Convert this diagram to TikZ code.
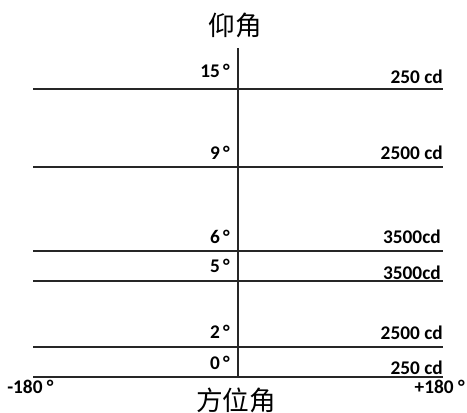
\documentclass[tikz,border=0pt]{standalone}
\usepackage{fontspec}
\setmainfont{Carlito}
\newfontfamily\cjk{Noto Sans CJK SC}
\begin{document}
\begin{tikzpicture}[x=0.75pt,y=-0.75pt,
  lbl/.style={inner sep=0pt,font=\fontsize{14.5pt}{16pt}\selectfont\bfseries},
  deg/.style={lbl,anchor=east},
  val/.style={lbl,anchor=east},
  axis/.style={line width=1.1pt,black!85},
  ttl/.style={inner sep=0pt,font=\cjk\fontsize{20pt}{22pt}\selectfont}]
\useasboundingbox (0,0) rectangle (467,412);
% vertical axis
\coordinate (vt) at (238,48);
\coordinate (vb) at (238,378);
\draw[axis] (vt) -- (vb);
% horizontal lines
\foreach \n/\y in {a/89,b/167,c/251,d/281,e/347,f/377}{
  \coordinate (\n L) at (33,\y);
  \coordinate (\n R) at (443,\y);
  \draw[axis] (\n L) -- (\n R);
}
\node[ttl] (top) at (235,25) {仰角};
\node[ttl] (bot) at (236,400) {方位角};
\node[deg] (d15) at (230,71) {15\,°};
\node[val] (v15) at (443,77) {250 cd};
\node[deg] (d9) at (230,153) {9\,°};
\node[val] (v9) at (443,153) {2500 cd};
\node[deg] (d6) at (230,237) {6\,°};
\node[val] (v6) at (441,237) {3500cd};
\node[deg] (d5) at (230,266) {5\,°};
\node[val] (v5) at (441,273) {3500cd};
\node[deg] (d2) at (230,332) {2\,°};
\node[val] (v2) at (443,333) {2500 cd};
\node[deg] (d0) at (230,363) {0\,°};
\node[val] (v0) at (443,368) {250 cd};
\node[lbl,anchor=west] (m180) at (7,387) {-180 °};
\node[lbl,anchor=east] (p180) at (465,387) {+180 °};
\end{tikzpicture}
\end{document}
